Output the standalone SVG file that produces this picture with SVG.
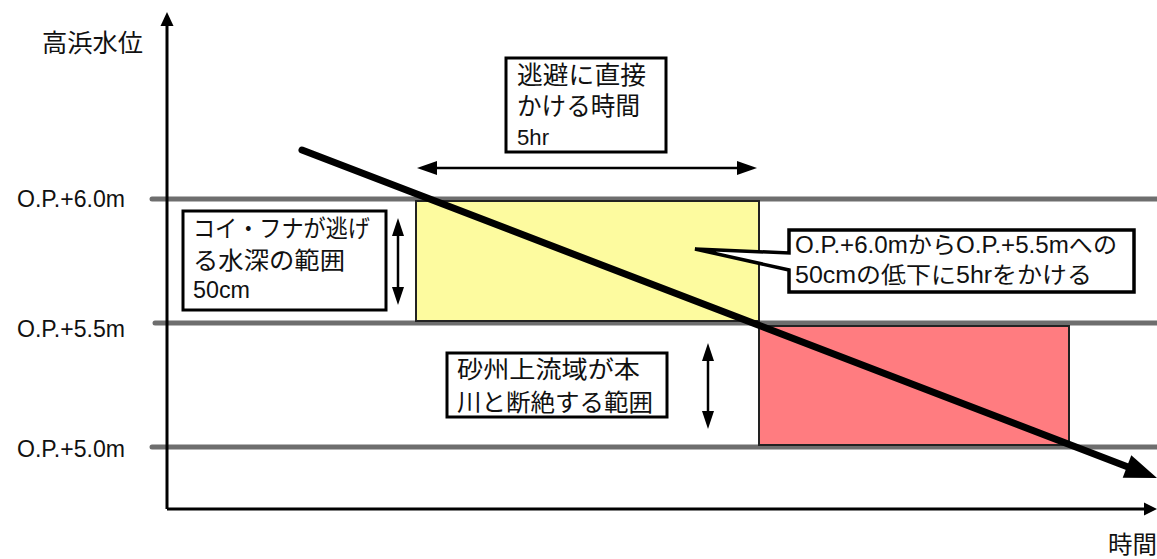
<svg xmlns="http://www.w3.org/2000/svg" width="1157" height="559" viewBox="0 0 1157 559">
<style>
text{font-family:"Liberation Sans","Noto Sans CJK JP",sans-serif;fill:#111}
.lvl{stroke:#6e6e6e;stroke-width:5;stroke-linecap:round;fill:none}
.box{fill:#fff;stroke:#000;stroke-width:3}
.ax{stroke:#000;stroke-width:3;fill:none}
.thin{stroke:#000;stroke-width:2.5;fill:none}
</style>
<rect width="1157" height="559" fill="#fff"/>

<g id="levels">
<line class="lvl" x1="152" y1="199" x2="1160" y2="199"/>
<line class="lvl" x1="155" y1="323" x2="1160" y2="323"/>
<line class="lvl" x1="152" y1="447" x2="1160" y2="447"/>
<text x="17" y="207" font-size="23" textLength="108" lengthAdjust="spacingAndGlyphs">O.P.+6.0m</text>
<text x="17" y="337" font-size="23" textLength="108" lengthAdjust="spacingAndGlyphs">O.P.+5.5m</text>
<text x="17" y="457" font-size="23" textLength="108" lengthAdjust="spacingAndGlyphs">O.P.+5.0m</text>
</g>

<g id="axes">
<path class="ax" d="M167,509 V24"/>
<path d="M160.5,26 L167,12 L173.5,26 Z" fill="#000"/>
<path class="ax" d="M167,509 H1146"/>
<path d="M1144,502.5 L1157,509 L1144,515.5 Z" fill="#000"/>
<text x="42" y="52" font-size="25" textLength="101" lengthAdjust="spacingAndGlyphs">高浜水位</text>
<text x="1108" y="553" font-size="24" textLength="49" lengthAdjust="spacingAndGlyphs">時間</text>
</g>

<g id="yellow-zone">
<rect x="416" y="201" width="343" height="120" fill="#fdfb9f" stroke="#222" stroke-width="2"/>
</g>
<g id="red-zone">
<rect x="759" y="326" width="310" height="119" fill="#ff7c80" stroke="#222" stroke-width="2"/>
</g>

<g id="connectors">
<line class="thin" x1="430" y1="168" x2="744" y2="168"/>
<path d="M417,168 L437,161 L437,175 Z" fill="#000"/>
<path d="M757,168 L737,161 L737,175 Z" fill="#000"/>
<line class="thin" x1="398" y1="230" x2="398" y2="293"/>
<path d="M398,218 L392,236 L404,236 Z" fill="#000"/>
<path d="M398,305 L392,287 L404,287 Z" fill="#000"/>
<line class="thin" x1="708" y1="356" x2="708" y2="416"/>
<path d="M708,343 L702,361 L714,361 Z" fill="#000"/>
<path d="M708,429 L702,411 L714,411 Z" fill="#000"/>
</g>

<g id="trend">
<line x1="302" y1="150" x2="1128" y2="467" stroke="#000" stroke-width="7" stroke-linecap="round"/>
<path d="M1157,478 L1131.3,455.3 L1122.7,477.7 Z" fill="#000"/>
</g>

<g id="box-time">
<rect class="box" x="506" y="58" width="160" height="94" stroke-width="2.5"/>
<text x="517" y="84" font-size="25" textLength="129" lengthAdjust="spacingAndGlyphs">逃避に直接</text>
<text x="517" y="115" font-size="25" textLength="123" lengthAdjust="spacingAndGlyphs">かける時間</text>
<text x="517" y="145" font-size="22" textLength="32" lengthAdjust="spacingAndGlyphs">5hr</text>
</g>

<g id="box-depth">
<rect class="box" x="183" y="211" width="203" height="99" stroke-width="2.5"/>
<text x="193" y="237" font-size="24" textLength="177" lengthAdjust="spacingAndGlyphs">コイ・フナが逃げ</text>
<text x="193" y="269" font-size="24" textLength="152" lengthAdjust="spacingAndGlyphs">る水深の範囲</text>
<text x="193" y="298" font-size="23" textLength="57" lengthAdjust="spacingAndGlyphs">50cm</text>
</g>

<g id="box-callout">
<path d="M789,230 H1134 V292 H789 V270 L695,249 L789,253 Z" fill="#fff" stroke="#000" stroke-width="3.5" stroke-linejoin="miter"/>
<text x="795" y="253" font-size="23" textLength="322" lengthAdjust="spacingAndGlyphs">O.P.+6.0mからO.P.+5.5mへの</text>
<text x="795" y="283" font-size="23" textLength="297" lengthAdjust="spacingAndGlyphs">50cmの低下に5hrをかける</text>
</g>

<g id="box-cut">
<rect class="box" x="447" y="353" width="220" height="64" stroke-width="2.5"/>
<text x="457" y="378" font-size="24" textLength="183" lengthAdjust="spacingAndGlyphs">砂州上流域が本</text>
<text x="457" y="411" font-size="24" textLength="196" lengthAdjust="spacingAndGlyphs">川と断絶する範囲</text>
</g>
</svg>
